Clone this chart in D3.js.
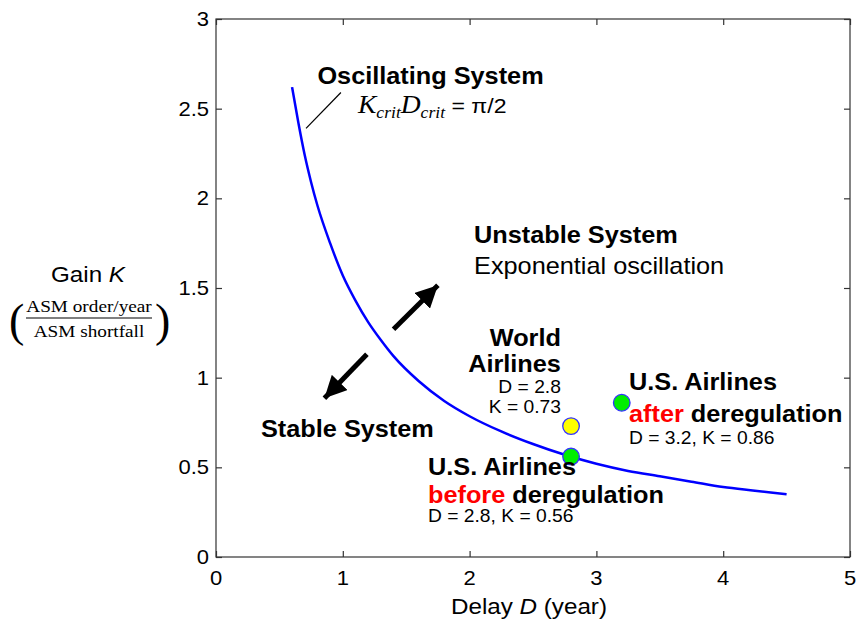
<!DOCTYPE html>
<html>
<head>
<meta charset="utf-8">
<script src="https://cdn.jsdelivr.net/npm/d3@7"></script>
<style>
  html, body { margin: 0; padding: 0; background: #fff; }
  svg { display: block; }
  text { font-family: "Liberation Sans", Arial, Helvetica, sans-serif; fill: #000; }
</style>
</head>
<body>
<svg id="chart" width="857" height="625"></svg>
<script>
// ---- data ----
const xTicks = [0, 1, 2, 3, 4, 5];
const yTicks = [0, 0.5, 1, 1.5, 2, 2.5, 3];
const xTickLabels = ["0", "1", "2", "3", "4", "5"];
const yTickLabels = ["0", "0.5", "1", "1.5", "2", "2.5", "3"];

// critical curve K_crit * D_crit = pi/2
const curveD = [0.6, 0.65, 0.7, 0.75, 0.8, 0.9, 1.0, 1.1, 1.2, 1.3, 1.4, 1.6, 1.8, 2.0, 2.25, 2.5, 2.75, 3.0, 3.25, 3.5, 3.75, 4.0, 4.25, 4.5];
const curveK = [2.62, 2.42, 2.24, 2.09, 1.96, 1.75, 1.57, 1.43, 1.31, 1.21, 1.12, 0.98, 0.87, 0.785, 0.70, 0.63, 0.57, 0.52, 0.48, 0.45, 0.42, 0.39, 0.37, 0.35];

const pointNames = ["World", "USbefore", "USafter"];
const pointD = [2.8, 2.8, 3.2];
const pointK = [0.73, 0.56, 0.86];
const pointFill = ["#ffff00", "#00ee00", "#00ee00"];

// ---- layout ----
const svg = d3.select("#chart");
const mLeft = 216, mRight = 850, mTop = 19, mBottom = 557;
const x = d3.scaleLinear().domain([0, 5]).range([mLeft, mRight]);
const y = d3.scaleLinear().domain([0, 3]).range([mBottom, mTop]);
const SX = 1.1; // horizontal stretch of the reference's text

function txt(px, py, str, opt = {}) {
  const t = svg.append("text")
    .attr("transform", `translate(${px},${py}) scale(${SX},1)`)
    .attr("font-size", opt.size || 23)
    .attr("font-weight", opt.bold ? "bold" : "normal")
    .attr("text-anchor", opt.anchor || "start");
  if (opt.fill) t.style("fill", opt.fill);
  if (opt.family) t.style("font-family", opt.family);
  if (opt.italic) t.attr("font-style", "italic");
  if (str !== null) t.text(str);
  return t;
}

// ---- axes ----
const axisColor = "#333";
svg.append("rect").attr("x", mLeft).attr("y", mTop)
  .attr("width", mRight - mLeft).attr("height", mBottom - mTop)
  .attr("fill", "none").attr("stroke", axisColor).attr("stroke-width", 1.2);

const gB = svg.append("g").attr("transform", `translate(0,${mBottom})`)
  .call(d3.axisBottom(x).tickValues(xTicks).tickSize(-6).tickFormat(""));
const gT = svg.append("g").attr("transform", `translate(0,${mTop})`)
  .call(d3.axisTop(x).tickValues(xTicks).tickSize(-6).tickFormat(""));
const gL = svg.append("g").attr("transform", `translate(${mLeft},0)`)
  .call(d3.axisLeft(y).tickValues(yTicks).tickSize(-6).tickFormat(""));
const gR = svg.append("g").attr("transform", `translate(${mRight},0)`)
  .call(d3.axisRight(y).tickValues(yTicks).tickSize(-6).tickFormat(""));
[gB, gT, gL, gR].forEach(g => {
  g.select(".domain").remove();
  g.selectAll("line").attr("stroke", axisColor).attr("stroke-width", 1.2);
});

xTicks.forEach((v, i) => txt(x(v), mBottom + 28, xTickLabels[i], { size: 20, anchor: "middle" }));
yTicks.forEach((v, i) => txt(mLeft - 7, y(v) + 7, yTickLabels[i], { size: 20, anchor: "end" }));

// axis labels
const xl = txt(x(2.5) - 4, 614, null, { size: 22, anchor: "middle" });
xl.append("tspan").text("Delay ");
xl.append("tspan").attr("font-style", "italic").text("D");
xl.append("tspan").text(" (year)");

const yl = txt(88, 282, null, { size: 22, anchor: "middle" });
yl.append("tspan").text("Gain ");
yl.append("tspan").attr("font-style", "italic").text("K");

const serif = '"Liberation Serif", "Times New Roman", serif';
txt(89, 312, "ASM order/year", { size: 17.5, anchor: "middle", family: serif });
txt(89, 337, "ASM shortfall", { size: 17.5, anchor: "middle", family: serif });
svg.append("line").attr("x1", 26).attr("x2", 152).attr("y1", 318).attr("y2", 318)
  .attr("stroke", "#000").attr("stroke-width", 1.2);
svg.append("text").attr("x", 9).attr("y", 336).attr("font-size", 46)
  .style("font-family", serif).attr("font-weight", "200").text("(");
svg.append("text").attr("x", 155).attr("y", 336).attr("font-size", 46)
  .style("font-family", serif).attr("font-weight", "200").text(")");

// ---- curve ----
const curveData = curveD.map((d, i) => [d, curveK[i]]);
svg.append("path").datum(curveData)
  .attr("fill", "none").attr("stroke", "#0000ff").attr("stroke-width", 2.5)
  .attr("d", d3.line().x(d => x(d[0])).y(d => y(d[1])).curve(d3.curveMonotoneX));

// ---- arrows ----
svg.append("defs").append("marker")
  .attr("id", "ah").attr("viewBox", "0 0 10 10").attr("refX", 10).attr("refY", 5)
  .attr("markerWidth", 4.4).attr("markerHeight", 4.4).attr("orient", "auto")
  .attr("markerUnits", "strokeWidth")
  .append("path").attr("d", "M0,0 L10,5 L0,10 Z").attr("fill", "#000");
const arrows = [
  [[1.40, 1.27], [1.75, 1.515]],
  [[1.19, 1.13], [0.855, 0.885]]
];
arrows.forEach(a => {
  svg.append("line")
    .attr("x1", x(a[0][0])).attr("y1", y(a[0][1]))
    .attr("x2", x(a[1][0])).attr("y2", y(a[1][1]))
    .attr("stroke", "#000").attr("stroke-width", 5)
    .attr("marker-end", "url(#ah)");
});

// leader line
svg.append("line").attr("x1", x(0.71)).attr("y1", y(2.39))
  .attr("x2", x(0.985)).attr("y2", y(2.59)).attr("stroke", "#000").attr("stroke-width", 1.2);

// ---- points ----
svg.selectAll("circle.pt").data(pointNames).enter().append("circle")
  .attr("class", "pt")
  .attr("cx", (d, i) => x(pointD[i])).attr("cy", (d, i) => y(pointK[i]))
  .attr("r", 8.3).attr("fill", (d, i) => pointFill[i])
  .attr("stroke", "#3333ff").attr("stroke-width", 1.3);

// ---- annotations ----
txt(x(0.80), y(2.64), "Oscillating System", { bold: true });
const f = txt(x(1.12), y(2.475), null, { size: 25, family: serif, italic: true });
f.append("tspan").text("K");
f.append("tspan").attr("font-size", 16).attr("dy", 5).text("crit");
f.append("tspan").attr("dy", -5).text("D");
f.append("tspan").attr("font-size", 16).attr("dy", 5).text("crit");
f.append("tspan").attr("dy", -5).attr("font-style", "normal")
  .style("font-family", '"Liberation Sans", Arial, sans-serif').attr("font-size", 21).text(" = π/2");

txt(x(2.035), y(1.75), "Unstable System", { bold: true });
txt(x(2.035), y(1.578), "Exponential oscillation");
txt(x(0.355), y(0.67), "Stable System", { bold: true });

txt(x(2.72), y(1.177), "World", { bold: true, anchor: "end" });
txt(x(2.72), y(1.032), "Airlines", { bold: true, anchor: "end" });
txt(x(2.72), y(0.915), "D = 2.8", { size: 17.5, anchor: "end" });
txt(x(2.72), y(0.804), "K = 0.73", { size: 17.5, anchor: "end" });

txt(x(3.257), y(0.93), "U.S. Airlines", { bold: true });
const a1 = txt(x(3.257), y(0.753), null, { bold: true });
a1.append("tspan").style("fill", "#ff0000").text("after");
a1.append("tspan").text(" deregulation");
txt(x(3.257), y(0.631), "D = 3.2, K = 0.86", { size: 17.5 });

txt(x(1.672), y(0.458), "U.S. Airlines", { bold: true });
const b1 = txt(x(1.672), y(0.302), null, { bold: true });
b1.append("tspan").style("fill", "#ff0000").text("before");
b1.append("tspan").text(" deregulation");
txt(x(1.672), y(0.197), "D = 2.8, K = 0.56", { size: 17.5 });
</script>
</body>
</html>
